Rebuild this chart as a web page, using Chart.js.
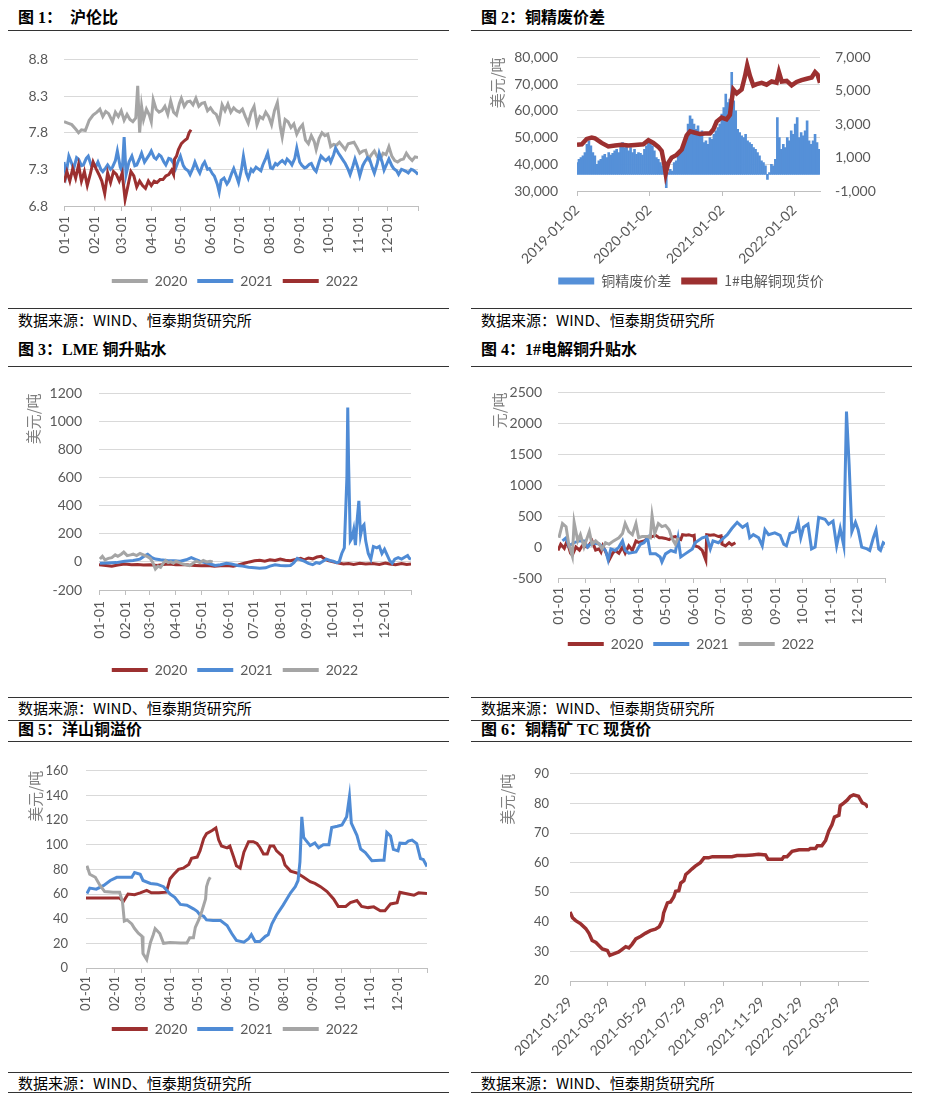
<!DOCTYPE html>
<html lang="zh-CN">
<head>
<meta charset="UTF-8">
<title>铜市场图表</title>
<script src="https://cdn.jsdelivr.net/npm/chart.js"></script>
<style>
  body { margin: 0; background: #fff; }
  #page { position: relative; width: 925px; height: 1115px; overflow: hidden; font-family: "Liberation Serif", "Noto Sans CJK SC", serif; }
  .title { position: absolute; font-weight: bold; font-size: 16px; line-height: 20px; color: #000; white-space: pre; }
  .rule { position: absolute; height: 0; border-top: 1px solid #333; }
  .source { position: absolute; font-family: "Noto Sans CJK SC", sans-serif; font-size: 15px; line-height: 20px; color: #000; }
  canvas { position: absolute; }
</style>
</head>
<body>
<div id="page">
  <div class="title" style="left:18px;top:8px;">图 1：  沪伦比</div>
  <div class="title" style="left:481px;top:8px;">图 2：铜精废价差</div>
  <div class="rule" style="left:8px;width:441px;top:30px;"></div>
  <div class="rule" style="left:471px;width:441px;top:30px;"></div>
  <canvas id="c1" width="454" height="263" style="left:8px;top:35px;"></canvas>
  <canvas id="c2" width="442" height="268" style="left:470px;top:30px;"></canvas>
  <div class="rule" style="left:8px;width:441px;top:308px;"></div>
  <div class="rule" style="left:471px;width:441px;top:308px;"></div>
  <div class="source" style="left:18px;top:310px;">数据来源：WIND、恒泰期货研究所</div>
  <div class="source" style="left:481px;top:310px;">数据来源：WIND、恒泰期货研究所</div>

  <div class="title" style="left:18px;top:340px;">图 3：LME 铜升贴水</div>
  <div class="title" style="left:481px;top:340px;">图 4：1#电解铜升贴水</div>
  <div class="rule" style="left:8px;width:441px;top:366px;"></div>
  <div class="rule" style="left:471px;width:441px;top:366px;"></div>
  <canvas id="c3" width="454" height="319" style="left:8px;top:368px;"></canvas>
  <canvas id="c4" width="442" height="293" style="left:470px;top:368px;"></canvas>
  <div class="rule" style="left:8px;width:441px;top:697px;"></div>
  <div class="rule" style="left:471px;width:441px;top:697px;"></div>
  <div class="source" style="left:18px;top:698px;">数据来源：WIND、恒泰期货研究所</div>
  <div class="source" style="left:481px;top:698px;">数据来源：WIND、恒泰期货研究所</div>
  <div class="rule" style="left:8px;width:441px;top:720px;"></div>
  <div class="rule" style="left:471px;width:441px;top:720px;"></div>

  <div class="title" style="left:18px;top:720px;">图 5：洋山铜溢价</div>
  <div class="title" style="left:481px;top:720px;">图 6：铜精矿 TC 现货价</div>
  <div class="rule" style="left:8px;width:441px;top:741px;"></div>
  <div class="rule" style="left:471px;width:441px;top:741px;"></div>
  <canvas id="c5" width="454" height="301" style="left:8px;top:745px;"></canvas>
  <canvas id="c6" width="442" height="320" style="left:470px;top:745px;"></canvas>
  <div class="rule" style="left:8px;width:441px;top:1072px;"></div>
  <div class="rule" style="left:471px;width:441px;top:1072px;"></div>
  <div class="source" style="left:18px;top:1073px;">数据来源：WIND、恒泰期货研究所</div>
  <div class="source" style="left:481px;top:1073px;">数据来源：WIND、恒泰期货研究所</div>
  <div class="rule" style="left:8px;width:441px;top:1092px;"></div>
  <div class="rule" style="left:471px;width:441px;top:1092px;"></div>
</div>

<script>
// ---- 公共刻度 ----
const monthTicks = [0, 31, 59, 90, 120, 151, 181, 212, 243, 273, 304, 334, 365];
const monthLabels = ['01-01', '02-01', '03-01', '04-01', '05-01', '06-01', '07-01', '08-01', '09-01', '10-01', '11-01', '12-01', ''];

// ---- 图1 沪伦比 (日序, 比值) ----
const ratioTicks = [6.8, 7.3, 7.8, 8.3, 8.8];
const ratio2020 = [[0,7.95],[4,7.93],[8,7.91],[12,7.85],[15,7.80],[18,7.84],[22,7.83],[26,7.97],[30,8.04],[34,8.08],[37,8.12],[40,8.02],[43,8.09],[46,8.06],[50,7.95],[53,8.08],[56,8.02],[59,8.10],[62,7.97],[65,8.05],[68,7.98],[71,7.95],[74,8.00],[76,8.44],[78,7.80],[80,8.16],[82,7.98],[85,8.12],[88,8.04],[90,7.95],[92,8.25],[95,8.12],[98,8.08],[101,8.10],[104,8.16],[107,8.05],[110,8.23],[113,8.08],[116,8.04],[119,8.20],[121,8.27],[124,8.16],[127,8.22],[130,8.23],[133,8.18],[136,8.27],[139,8.16],[142,8.20],[145,8.21],[148,8.10],[151,8.14],[154,8.08],[157,8.05],[160,7.95],[163,8.18],[166,8.10],[169,8.19],[172,8.08],[175,8.14],[178,8.10],[181,8.08],[184,8.12],[187,8.02],[190,7.93],[193,8.08],[196,8.16],[199,7.91],[202,8.02],[205,7.99],[208,8.08],[211,8.02],[214,7.91],[217,8.10],[220,8.21],[223,7.88],[225,7.74],[228,7.98],[231,7.95],[234,7.87],[237,7.92],[240,7.78],[243,7.86],[246,7.91],[249,7.70],[252,7.65],[255,7.76],[258,7.68],[260,7.57],[263,7.72],[266,7.80],[269,7.76],[272,7.78],[275,7.61],[278,7.64],[281,7.63],[284,7.67],[287,7.62],[290,7.57],[293,7.65],[296,7.66],[299,7.67],[302,7.60],[305,7.52],[308,7.55],[311,7.56],[314,7.44],[317,7.50],[320,7.55],[323,7.47],[326,7.44],[329,7.52],[332,7.50],[335,7.61],[338,7.48],[341,7.42],[344,7.40],[347,7.43],[350,7.44],[353,7.52],[356,7.46],[359,7.42],[362,7.47],[365,7.46]];
const ratio2021 = [[0,7.40],[2,7.23],[5,7.48],[8,7.38],[10,7.31],[13,7.46],[15,7.44],[18,7.35],[20,7.36],[23,7.45],[25,7.48],[28,7.36],[30,7.38],[33,7.34],[35,7.40],[38,7.30],[40,7.27],[43,7.32],[45,7.36],[48,7.30],[50,7.33],[53,7.42],[55,7.55],[58,7.33],[60,7.27],[62,7.74],[64,7.23],[67,7.40],[70,7.48],[73,7.35],[75,7.36],[78,7.45],[80,7.52],[83,7.40],[85,7.44],[88,7.50],[90,7.55],[93,7.46],[95,7.44],[98,7.50],[100,7.48],[103,7.40],[105,7.36],[108,7.45],[110,7.44],[113,7.38],[115,7.31],[118,7.42],[120,7.48],[123,7.35],[125,7.31],[128,7.28],[130,7.23],[133,7.32],[135,7.40],[138,7.30],[140,7.25],[143,7.36],[145,7.40],[148,7.30],[150,7.31],[153,7.24],[155,7.21],[158,7.10],[160,6.99],[162,7.15],[165,7.18],[168,7.10],[170,7.14],[173,7.25],[175,7.31],[178,7.20],[180,7.12],[183,7.30],[185,7.48],[188,7.25],[190,7.18],[193,7.30],[195,7.27],[198,7.33],[200,7.31],[203,7.28],[205,7.36],[208,7.45],[210,7.52],[213,7.32],[215,7.31],[218,7.38],[220,7.36],[223,7.40],[225,7.42],[228,7.38],[230,7.44],[233,7.40],[235,7.36],[238,7.45],[240,7.59],[243,7.40],[245,7.36],[248,7.32],[250,7.33],[253,7.37],[255,7.38],[258,7.30],[260,7.27],[263,7.40],[265,7.48],[268,7.44],[270,7.42],[273,7.46],[275,7.40],[278,7.50],[280,7.59],[283,7.52],[285,7.48],[288,7.42],[290,7.38],[293,7.30],[295,7.23],[298,7.35],[300,7.44],[303,7.32],[305,7.21],[308,7.35],[310,7.40],[313,7.46],[315,7.44],[318,7.32],[320,7.25],[323,7.38],[325,7.52],[328,7.40],[330,7.29],[333,7.38],[335,7.44],[338,7.35],[340,7.31],[343,7.28],[345,7.23],[348,7.30],[350,7.29],[353,7.27],[355,7.25],[358,7.30],[360,7.29],[363,7.26],[365,7.23]];
const ratio2022 = [[0,7.12],[3,7.27],[6,7.14],[9,7.31],[12,7.18],[15,7.36],[18,7.14],[21,7.27],[24,7.08],[27,7.23],[30,7.40],[33,7.31],[36,7.23],[39,7.14],[42,6.97],[45,7.25],[48,7.12],[51,7.27],[54,7.23],[57,7.14],[60,7.25],[63,6.89],[66,7.08],[69,7.27],[72,7.21],[75,7.06],[78,7.14],[81,7.08],[84,7.04],[87,7.14],[90,7.08],[93,7.14],[96,7.12],[99,7.16],[102,7.16],[105,7.21],[108,7.23],[111,7.29],[113,7.23],[114,7.44],[116,7.48],[118,7.57],[121,7.65],[124,7.69],[127,7.72],[129,7.80],[131,7.84]];

// ---- 图2 铜精废价差 (自 2019-01-02 起的天数) ----
const spreadTicks = [0, 365, 731, 1096];
const spreadLabels = ['2019-01-02', '2020-01-02', '2021-01-02', '2022-01-02'];
const priceTicks = [30000, 40000, 50000, 60000, 70000, 80000];
const gapTicks = [-1000, 1000, 3000, 5000, 7000];
const barStep = 10;
const scrapGap = [700,900,1000,1100,1300,1800,2000,1700,1300,1100,600,800,900,1100,1200,1000,1300,1150,1250,1400,1500,1300,1700,1900,1600,1800,1400,1600,1300,1500,1200,1300,1250,1150,1500,1700,2100,1900,1700,1400,1000,900,700,500,300,-800,100,300,200,700,800,1100,1300,1400,1800,2300,3000,3500,3300,3000,2700,2900,2500,2600,1900,2000,1800,2200,2100,2400,2600,2800,3000,3600,4000,4800,4300,4500,6100,4400,3800,2700,2500,2300,2200,2400,2000,1900,1800,1600,1500,1300,1100,800,700,500,-300,100,600,500,900,3400,2200,1500,1800,1600,2200,2000,2600,2400,3000,3400,2200,2500,2300,2600,3200,2000,1800,2000,2400,1900,1500];
const cathodePrice = [[0,47300],[24,47500],[49,49500],[74,50000],[91,49700],[124,48000],[158,46700],[192,47000],[225,47300],[259,47000],[292,47200],[334,47500],[360,49000],[385,48000],[410,46500],[427,45000],[440,40000],[447,36500],[460,40500],[477,42500],[502,43500],[528,45500],[553,50800],[570,52300],[595,51800],[620,51300],[645,51500],[670,51500],[687,53000],[704,56000],[729,57500],[754,56800],[771,58500],[780,64000],[788,68000],[805,66500],[830,68000],[847,73000],[858,77000],[872,73000],[889,69500],[906,70000],[931,70500],[956,69800],[981,71000],[1006,70500],[1018,74500],[1032,71000],[1057,71200],[1082,69500],[1107,70800],[1132,71500],[1158,72000],[1183,72500],[1200,74500],[1213,73500],[1225,70500]];

// ---- 图3 LME 铜升贴水 ----
const lmeTicks = [-200, 0, 200, 400, 600, 800, 1000, 1200];
const lme2020 = [[0,-20],[8,-25],[15,-30],[22,-22],[30,-15],[38,-20],[45,-18],[52,-22],[60,-20],[68,-25],[75,-18],[82,-15],[90,-20],[98,-18],[105,-22],[112,-25],[120,-28],[128,-25],[135,-30],[142,-28],[150,-25],[157,-30],[163,-22],[170,-10],[176,0],[182,8],[188,12],[194,5],[200,15],[206,10],[212,20],[218,12],[224,8],[230,18],[236,25],[240,15],[245,28],[250,22],[255,35],[260,40],[263,25],[268,10],[274,0],[280,-8],[286,-15],[292,-12],[298,-18],[305,-10],[312,-15],[320,-12],[328,-18],[335,-8],[340,-15],[347,-20],[354,-12],[360,-18],[365,-15]];
const lme2021 = [[1,-10],[10,-8],[20,-5],[30,5],[40,10],[48,20],[54,45],[57,55],[62,30],[66,20],[72,15],[80,10],[88,8],[95,5],[102,15],[108,30],[112,20],[118,5],[124,-5],[130,-15],[136,-25],[142,-20],[149,-10],[155,-15],[162,-25],[168,-30],[175,-38],[182,-42],[188,-45],[195,-42],[200,-30],[206,-20],[212,-25],[218,-28],[224,-25],[228,-5],[232,25],[236,15],[240,5],[245,-10],[250,-20],[254,-5],[258,-10],[262,5],[266,20],[270,10],[274,5],[278,-5],[281,0],[284,60],[287,100],[290,600],[291,1100],[292,700],[294,150],[296,170],[298,230],[300,120],[302,300],[304,435],[306,190],[308,250],[310,265],[312,150],[315,60],[318,20],[321,110],[325,100],[328,110],[331,60],[334,90],[337,50],[340,10],[343,-10],[346,20],[350,30],[354,20],[358,35],[361,45],[363,25],[365,20]];
const lme2022 = [[1,20],[4,40],[7,15],[11,25],[15,30],[19,50],[22,40],[26,55],[29,70],[33,45],[37,50],[40,55],[44,45],[48,60],[52,50],[56,40],[60,25],[63,-5],[66,-50],[69,-30],[72,-38],[75,-10],[78,10],[81,-5],[84,0],[87,-10],[90,5],[94,-5],[98,-15],[102,-20],[106,-26],[110,-10],[114,5],[118,-5],[122,10],[126,0],[130,5],[133,0]];

// ---- 图4 1#电解铜升贴水 ----
const spotTicks = [-500, 0, 500, 1000, 1500, 2000, 2500];
const spot2020 = [[0,-55],[3,45],[7,-20],[10,95],[14,-100],[16,-130],[20,0],[24,-50],[27,20],[33,0],[38,100],[42,-50],[46,-30],[48,-80],[50,20],[54,-100],[57,-210],[61,-100],[64,-55],[68,-100],[72,0],[75,-100],[79,20],[83,-55],[87,100],[90,75],[96,100],[101,150],[105,170],[109,190],[113,150],[116,150],[120,140],[124,120],[128,160],[131,170],[135,130],[137,120],[139,200],[143,190],[146,200],[150,180],[152,190],[153,20],[157,0],[161,-55],[165,-210],[166,200],[170,190],[174,200],[179,170],[182,180],[183,50],[187,20],[191,70],[194,35],[198,70]];
const spot2021 = [[5,100],[9,150],[12,20],[18,70],[23,100],[29,100],[33,0],[38,70],[46,50],[53,-55],[56,-210],[59,-30],[64,-55],[68,0],[72,100],[75,-55],[79,-100],[87,-80],[92,45],[96,70],[100,150],[103,-110],[109,-110],[114,-160],[116,-240],[120,-110],[126,-55],[131,-80],[134,150],[137,-160],[142,-110],[150,-30],[153,70],[161,150],[166,170],[170,-30],[173,100],[179,70],[185,150],[189,200],[194,300],[200,400],[206,320],[211,370],[214,150],[218,200],[224,150],[228,20],[231,280],[235,200],[242,230],[248,190],[252,45],[255,20],[259,220],[265,250],[268,410],[271,150],[274,320],[279,370],[283,-30],[287,0],[291,480],[298,450],[302,370],[307,420],[311,20],[315,300],[319,20],[320,760],[322,2190],[325,1320],[328,250],[332,400],[335,280],[339,0],[345,-30],[348,-55],[352,150],[355,275],[358,-30],[360,-55],[363,70],[365,45]];
const spot2022 = [[1,150],[5,380],[9,330],[12,45],[16,-150],[18,400],[22,100],[25,200],[29,0],[35,250],[38,45],[42,100],[46,45],[49,-30],[53,70],[57,45],[62,100],[68,150],[72,220],[75,380],[79,250],[83,200],[87,380],[90,150],[94,170],[100,170],[103,150],[105,510],[108,220],[112,380],[116,330],[120,350],[124,280],[127,150],[131,45],[134,150]];

// ---- 图5 洋山铜溢价 ----
const ysTicks = [0, 20, 40, 60, 80, 100, 120, 140, 160];
const ys2020 = [[0,56.7],[20,56.7],[36,56.7],[40,54],[45,60],[52,59.5],[58,61],[65,63],[70,61],[78,61],[86,61.5],[90,72.5],[94,76],[99,80],[104,81],[110,84],[113,89],[119,90],[122,95],[126,105],[129,109],[135,111.5],[139,113.6],[142,104],[145,99],[151,97.5],[154,99],[158,90],[161,83],[165,81],[169,94],[174,102.5],[179,102.5],[183,101],[186,98],[190,92.5],[194,92.5],[197,99],[201,99],[204,95],[210,91],[213,83.6],[219,78.6],[226,77],[233,73.6],[240,70],[245,68.6],[251,66],[258,62],[265,56],[270,50],[278,50],[283,53],[290,54.7],[295,50],[302,49],[308,49.6],[315,46.4],[320,46.4],[326,52],[333,53],[336,61.5],[342,60.5],[351,59],[356,61],[365,60.5]];
const ys2021 = [[1,60.5],[4,64.8],[11,64],[19,67],[26,71],[33,73.6],[40,73.6],[49,73.6],[52,77.4],[58,76],[61,71],[69,68.6],[76,68],[83,66],[90,60],[95,57.4],[101,51.6],[108,51],[115,48],[119,46],[122,43],[126,42],[129,39],[136,38.5],[144,38.5],[151,34.5],[156,28],[161,22.4],[169,21],[174,23.7],[177,27],[181,21.5],[186,21.5],[192,25.7],[195,27],[199,35.8],[204,43],[211,51],[219,61],[224,66],[227,71],[229,86],[231,122.7],[233,106],[235,104],[240,99.3],[245,101.4],[249,97.5],[254,100],[260,100],[263,114],[269,115],[274,116],[279,122.7],[282,139],[284,117.6],[290,107.6],[294,96.5],[299,93.7],[306,87],[315,87.5],[319,87.5],[322,110],[326,107],[329,96.3],[334,95],[336,101.3],[342,101],[345,103],[349,103.8],[354,101],[358,88.7],[361,88],[365,82.4]];
const ys2022 = [[1,83],[4,76],[10,73.6],[15,67],[20,62],[29,61.5],[36,61.5],[39,54],[41,38],[44,39],[49,35.8],[52,32],[56,28.2],[60,25.7],[61,11.8],[65,6.8],[69,20.7],[72,27],[74,32],[79,28],[83,20],[90,20.7],[101,20.3],[108,20.3],[111,24.5],[115,24.5],[117,33],[121,39.6],[124,46],[128,56],[129,66],[131,71],[133,73.6]];

// ---- 图6 铜精矿 TC 现货价 (自 2021-01-29 起的天数) ----
const tcTicksX = [0, 59, 120, 181, 243, 304, 365, 424];
const tcLabels = ['2021-01-29', '2021-03-29', '2021-05-29', '2021-07-29', '2021-09-29', '2021-11-29', '2022-01-29', '2022-03-29'];
const tcTicksY = [20, 30, 40, 50, 60, 70, 80, 90];
const tcPrice = [[0,43.3],[4,41.4],[9,40.4],[17,39.3],[25,37.7],[30,36.1],[35,33.7],[41,33],[46,31.9],[51,30.8],[59,30.3],[63,28.7],[69,29.2],[77,29.8],[83,30.8],[88,31.6],[93,31.2],[98,32.4],[104,34.2],[112,35.1],[119,36.1],[127,37],[135,37.5],[141,38.3],[146,40.4],[148,43],[154,46.4],[159,46.7],[164,48.4],[167,50.3],[172,50.5],[175,53.1],[180,53.9],[183,56],[188,56.9],[193,57.9],[198,58.8],[206,60],[212,61.6],[219,61.6],[225,62],[235,62],[251,62],[256,62],[264,62.4],[277,62.4],[288,62.6],[298,62.8],[309,62.6],[313,61.1],[319,61.1],[335,61.1],[338,62],[343,62],[351,63.8],[362,64.3],[377,64.3],[380,64.8],[388,64.8],[391,65.7],[398,65.7],[404,67.5],[409,70.7],[414,72.8],[418,75.4],[425,76],[427,79.2],[433,80.2],[438,81.1],[443,82.4],[448,82.9],[456,82.4],[462,80.2],[467,79.7],[471,78.6]];

// ---- 样式 ----
const GRAY = '#a5a5a5', BLUE = '#4f8bd5', RED = '#9c3030';
const GRID = '#d9d9d9', AXIS = '#bfbfbf', TEXT = '#595959';
Chart.defaults.font.family = 'Lato, "Noto Sans CJK SC", sans-serif';
Chart.defaults.color = TEXT;
Chart.defaults.animation = false;

function pts(pairs) {
    return pairs.map(p => ({ x: p[0], y: p[1] }));
}

function lineSet(label, pairs, color, order, width) {
    return {
        type: 'line', label: label, data: pts(pairs),
        borderColor: color, backgroundColor: color, borderWidth: width || 3,
        pointRadius: 0, tension: 0, order: order, yAxisID: 'y'
    };
}

function xAxis(max, tickVals, labels, rot, pad, height, padRight, size) {
    return {
        type: 'linear', min: 0, max: max, offset: false,
        afterBuildTicks: s => { s.ticks = tickVals.map(v => ({ value: v })); },
        afterFit: s => { s.height = height; s.paddingRight = padRight; },
        ticks: { autoSkip: false, minRotation: rot, maxRotation: rot, padding: pad, font: { size: size || 14 },
            callback: (v, i) => labels[i] },
        grid: { drawOnChartArea: false, offset: false, color: AXIS, tickLength: 5 },
        border: { color: AXIS }
    };
}

function yAxis(tickVals, width, pad, size, fmt, title, titlePad) {
    return {
        type: 'linear', position: 'left',
        min: tickVals[0], max: tickVals[tickVals.length - 1],
        afterBuildTicks: s => { s.ticks = tickVals.map(v => ({ value: v })); },
        afterFit: s => { s.width = width; },
        ticks: { padding: pad, font: { size: size }, callback: fmt },
        grid: { color: GRID, drawTicks: false },
        border: { display: false },
        title: title ? { display: true, text: title, align: 'end', color: '#7f7f7f',
            font: { family: '"Noto Sans CJK SC"', size: 15 }, padding: { top: titlePad, bottom: 0 } } : { display: false }
    };
}

function legend(show, boxH, font) {
    return {
        display: show, position: 'bottom',
        labels: {
            boxWidth: 36, boxHeight: boxH, padding: 10, color: TEXT, font: font || { size: 14 },
            sort: (a, b) => a.datasetIndex - b.datasetIndex,
            generateLabels: chart => Chart.defaults.plugins.legend.labels.generateLabels(chart)
                .map(l => Object.assign(l, { lineWidth: 0 }))
        }
    };
}

function draw(id, datasets, scales, padTop, showLegend) {
    new Chart(document.getElementById(id).getContext('2d'), {
        type: 'line',
        data: { datasets: datasets },
        options: {
            responsive: false, animation: false,
            layout: { padding: { top: padTop, left: 0, right: 0, bottom: 0 } },
            plugins: { legend: legend(showLegend, 4), tooltip: { enabled: false } },
            scales: scales
        }
    });
}

const oneDec = v => v.toFixed(1);
const plain = v => String(v);
const comma = v => v.toLocaleString('en-US');

// 图1
draw('c1', [
    lineSet('2020', ratio2020, GRAY, 2),
    lineSet('2021', ratio2021, BLUE, 1),
    lineSet('2022', ratio2022, RED, 0)
], {
    x: xAxis(365, monthTicks, monthLabels, 90, 5, 58, 44),
    y: yAxis(ratioTicks, 56, 16, 14, oneDec)
}, 15, true);

// 图2
new Chart(document.getElementById('c2').getContext('2d'), {
    type: 'bar',
    data: {
        datasets: [
            {
                type: 'bar', label: '铜精废价差',
                data: scrapGap.map((v, i) => ({ x: i * barStep, y: v })),
                backgroundColor: '#5590d8', borderWidth: 0,
                barPercentage: 1, categoryPercentage: 1, order: 1, yAxisID: 'y2'
            },
            lineSet('1#电解铜现货价', cathodePrice, RED, 0, 4.5)
        ]
    },
    options: {
        responsive: false, animation: false,
        layout: { padding: { top: 14, left: 0, right: 0, bottom: 0 } },
        plugins: {
            legend: legend(true, 7, { family: '"Noto Sans CJK SC"', size: 14 }),
            tooltip: { enabled: false }
        },
        scales: {
            x: xAxis(1225, spreadTicks, spreadLabels, 45, 6, 73, 0),
            y: yAxis(priceTicks, 107, 19, 14, comma, '美元/吨', 18.6),
            y2: {
                type: 'linear', position: 'right', min: -1000, max: 7000,
                afterBuildTicks: s => { s.ticks = gapTicks.map(v => ({ value: v })); },
                afterFit: s => { s.width = 92; },
                ticks: { padding: 15, font: { size: 14 }, callback: comma },
                grid: { drawOnChartArea: false, drawTicks: false },
                border: { display: false }
            }
        }
    }
});

// 图3
draw('c3', [
    lineSet('2020', lme2020, RED, 2),
    lineSet('2021', lme2021, BLUE, 1),
    lineSet('2022', lme2022, GRAY, 0)
], {
    x: xAxis(365, monthTicks, monthLabels, 90, 6, 63, 51),
    y: yAxis(lmeTicks, 91, 17, 14, plain, '美元/吨', 16.6)
}, 16, true);

// 图4
draw('c4', [
    lineSet('2020', spot2020, RED, 2),
    lineSet('2021', spot2021, BLUE, 1),
    lineSet('2022', spot2022, GRAY, 0)
], {
    x: xAxis(365, monthTicks, monthLabels, 90, 4, 49, 27),
    y: yAxis(spotTicks, 88, 16, 14, plain, '元/吨', 20.6)
}, 15, true);

// 图5
draw('c5', [
    lineSet('2020', ys2020, RED, 2),
    lineSet('2021', ys2021, BLUE, 1),
    lineSet('2022', ys2022, GRAY, 0)
], {
    x: xAxis(365, monthTicks, monthLabels, 90, 3, 44, 35, 13),
    y: yAxis(ysTicks, 78, 18, 13, plain, '美元/吨', 18.6)
}, 12, true);

// 图6
draw('c6', [
    lineSet('TC', tcPrice, RED, 0, 3.5)
], {
    x: xAxis(471, tcTicksX, tcLabels, 45, 8, 84, 44),
    y: yAxis(tcTicksY, 100, 21, 13, plain, '美元/吨', 28.6)
}, 16, false);
</script>
</body>
</html>
